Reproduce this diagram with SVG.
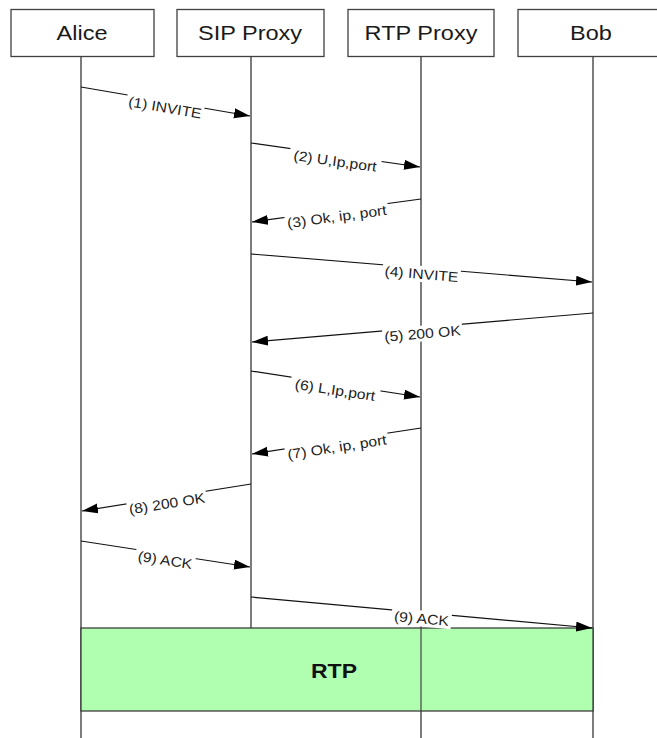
<svg xmlns="http://www.w3.org/2000/svg" width="657" height="738" viewBox="0 0 657 738">
  <style>
    .actor rect { fill: #ffffff; stroke: #404040; stroke-width: 1.3; }
    .actor text { font-family: "Liberation Sans", Arial, sans-serif; font-size: 21px; fill: #1a1a1a; text-anchor: middle; }
    .lifeline { stroke: #505050; stroke-width: 1.5; fill: none; }
    .msg line { stroke: #111111; stroke-width: 1.2; marker-end: url(#arrow); }
    .msg rect { fill: #ffffff; stroke: none; }
    .msg text { font-family: "Liberation Sans", Arial, sans-serif; font-size: 14px; fill: #222222; text-anchor: middle; }
  </style>
  <defs>
    <marker id="arrow" markerUnits="userSpaceOnUse" markerWidth="17" markerHeight="11" refX="16" refY="5" orient="auto">
      <path d="M0,0 L16,5 L0,10 z" fill="#000000"/>
    </marker>
  </defs>

  <rect width="657" height="738" fill="#ffffff"/>

  <!-- lifelines -->
  <g id="lifelines">
    <line class="lifeline" x1="81" y1="57" x2="81" y2="738"/>
    <line class="lifeline" x1="251" y1="57" x2="251" y2="628"/>
    <line class="lifeline" x1="421" y1="57" x2="421" y2="738"/>
    <line class="lifeline" x1="593" y1="57" x2="593" y2="738"/>
  </g>

  <!-- participants -->
  <g id="alice" class="actor">
    <rect x="11" y="9.5" width="143" height="47"/>
    <text transform="translate(82,40) scale(1.12,1)">Alice</text>
  </g>
  <g id="sip-proxy" class="actor">
    <rect x="177" y="9.5" width="147" height="47"/>
    <text transform="translate(250,40) scale(1.12,1)">SIP Proxy</text>
  </g>
  <g id="rtp-proxy" class="actor">
    <rect x="348" y="9.5" width="146" height="47"/>
    <text transform="translate(421,40) scale(1.12,1)">RTP Proxy</text>
  </g>
  <g id="bob" class="actor">
    <rect x="518" y="9.5" width="145" height="47"/>
    <text transform="translate(591,40) scale(1.12,1)">Bob</text>
  </g>

  <!-- RTP media session -->
  <g id="rtp">
    <rect x="81" y="628" width="512" height="83" fill="#b0ffb0" stroke="#303030" stroke-width="1.2"/>
    <line x1="421" y1="628" x2="421" y2="711" stroke="#404040" stroke-width="1.2"/>
    <text transform="translate(334,678) scale(1.15,1)" font-family="Liberation Sans, Arial, sans-serif" font-size="20" font-weight="bold" fill="#111111" text-anchor="middle">RTP</text>
  </g>

  <!-- messages: each label sits on a white patch that breaks the line under it -->
  <g id="messages" class="msg">
    <line x1="81" y1="87" x2="250" y2="116"/>
    <g transform="translate(166,101.5) rotate(9.7)">
      <rect x="-39" y="-2" width="78" height="16"/>
      <text transform="scale(1.12,1)" y="11">(1) INVITE</text>
    </g>

    <line x1="251" y1="143" x2="420" y2="167"/>
    <g transform="translate(336,155) rotate(8)">
      <rect x="-46" y="-2" width="92" height="16"/>
      <text transform="scale(1.12,1)" y="11">(2) U,Ip,port</text>
    </g>

    <line x1="421" y1="199" x2="252" y2="222"/>
    <g transform="translate(336,210.5) rotate(-7.7)">
      <rect x="-52" y="-2" width="104" height="16"/>
      <text transform="scale(1.12,1)" y="11">(3) Ok, ip, port</text>
    </g>

    <line x1="251" y1="254" x2="592" y2="282"/>
    <g transform="translate(422,268) rotate(4.7)">
      <rect x="-39" y="-2" width="78" height="16"/>
      <text transform="scale(1.12,1)" y="11">(4) INVITE</text>
    </g>

    <line x1="593" y1="313" x2="252" y2="342"/>
    <g transform="translate(422,327.5) rotate(-4.85)">
      <rect x="-40" y="-2" width="80" height="16"/>
      <text transform="scale(1.12,1)" y="11">(5) 200 OK</text>
    </g>

    <line x1="251" y1="371" x2="420" y2="397"/>
    <g transform="translate(336,384) rotate(8.7)">
      <rect x="-45" y="-2" width="90" height="16"/>
      <text transform="scale(1.12,1)" y="11">(6) L,Ip,port</text>
    </g>

    <line x1="421" y1="428" x2="252" y2="454"/>
    <g transform="translate(336,441) rotate(-8.7)">
      <rect x="-52" y="-2" width="104" height="16"/>
      <text transform="scale(1.12,1)" y="11">(7) Ok, ip, port</text>
    </g>

    <line x1="251" y1="484" x2="82" y2="511"/>
    <g transform="translate(166,497.5) rotate(-9)">
      <rect x="-40" y="-2" width="80" height="16"/>
      <text transform="scale(1.12,1)" y="11">(8) 200 OK</text>
    </g>

    <line x1="81" y1="541" x2="250" y2="567"/>
    <g transform="translate(166,554) rotate(8.7)">
      <rect x="-30" y="-2" width="60" height="16"/>
      <text transform="scale(1.12,1)" y="11">(9) ACK</text>
    </g>

    <line x1="251" y1="597" x2="592" y2="628"/>
    <g transform="translate(422,612.5) rotate(5.2)">
      <rect x="-30" y="-2" width="60" height="16"/>
      <text transform="scale(1.12,1)" y="11">(9) ACK</text>
    </g>
  </g>
</svg>
